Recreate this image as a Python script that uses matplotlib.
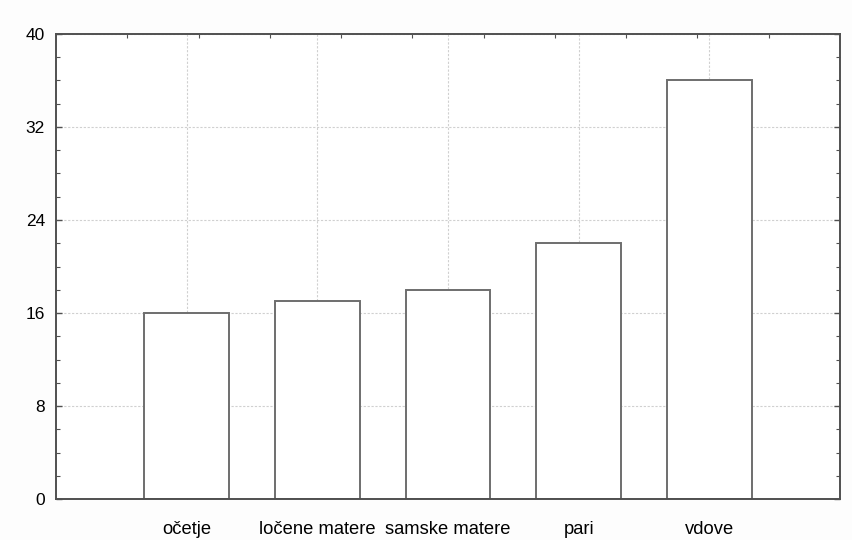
import numpy as np
import matplotlib.pyplot as plt
from matplotlib.ticker import MultipleLocator

plt.rcParams['font.family'] = ['Liberation Sans', 'DejaVu Sans']

# skupine in vrednosti
categories = ['očetje', 'ločene matere', 'samske matere', 'pari', 'vdove']
values = [16, 17, 18, 22, 36]
y_ticks = [0, 8, 16, 24, 32, 40]

edge = '#6e6e6e'
spine = '#505050'
grid = '#d0d0d0'

fig = plt.figure(figsize=(8.52, 5.40), dpi=100)
fig.patch.set_facecolor('#fdfdfd')
ax = fig.add_axes([56 / 852, 1 - 499 / 540, 784 / 852, 465 / 540])

x = np.arange(len(categories))
ax.bar(x, values, width=0.65, facecolor='white', edgecolor=edge, linewidth=1.4, zorder=3)

ax.set_xlim(-1, 5)
ax.set_ylim(0, 40)
ax.set_yticks(y_ticks)
ax.yaxis.set_minor_locator(MultipleLocator(2))
ax.set_xticks(x)
ax.set_xticklabels(categories, fontsize=13.2)
ax.tick_params(axis='y', labelsize=12.5, pad=8)
ax.tick_params(axis='both', which='both', direction='in', color=spine, right=True)
ax.tick_params(axis='both', which='major', length=4, width=1)
ax.tick_params(axis='y', which='minor', length=3, width=0.8)
ax.tick_params(axis='x', pad=16)

ax.grid(True, color=grid, linestyle=(0, (2, 1.5)), linewidth=0.8, zorder=0)

for s in ax.spines.values():
    s.set_color(spine)
    s.set_linewidth(1.4)
    s.set_zorder(4)

# kratke oznake na zgornjem robu
top = ax.secondary_xaxis('top', functions=(lambda v: (v + 1) / 6, lambda v: v * 6 - 1))
top.set_xticks(np.arange(1, 11) / 11)
top.tick_params(direction='in', length=3, color=spine, labeltop=False)
top.spines['top'].set_visible(False)

fig.savefig('out.png', dpi=100, facecolor=fig.get_facecolor())
